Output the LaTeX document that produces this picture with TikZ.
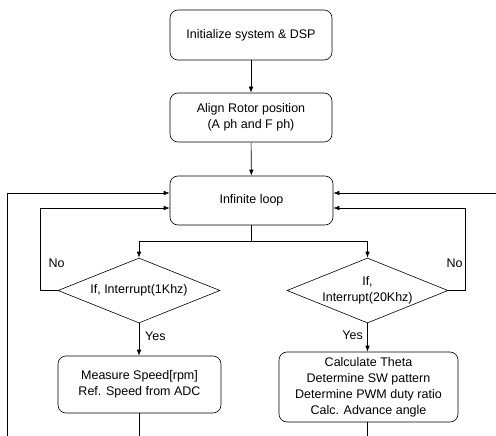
\documentclass[tikz,border=0pt]{standalone}
\usepackage{fontspec}
\setmainfont{Liberation Sans}
\usetikzlibrary{arrows.meta,shapes.geometric}
\begin{document}
\begin{tikzpicture}[x=1pt,y=-1pt,
  every node/.style={font=\fontsize{12.5}{16}\selectfont},
  box/.style={draw,rounded corners=8pt,align=center,inner sep=0pt,line width=0.6pt},
  dec/.style={draw,diamond,inner sep=0pt,line width=0.6pt},
  conn/.style={line width=0.6pt},
  arr/.style={conn,-{Latex[length=6pt,width=4.5pt]}},
  lbl/.style={inner sep=0pt,align=center}]
\useasboundingbox (0,0) rectangle (496,436);
\node[box,minimum width=162pt,minimum height=50pt] (init) at (251,35) {Initialize system \& DSP};
\node[box,minimum width=162pt,minimum height=49pt] (align) at (251,117.5) {Align Rotor position\\(A ph and F ph)};
\node[box,minimum width=163pt,minimum height=49pt] (loop) at (251.5,200.5) {Infinite loop};
\node[dec,minimum width=162pt,minimum height=65pt] (d1) at (139,290.5) {};
\node[lbl] (t1) at (d1) {If, Interrupt(1Khz)};
\node[dec,minimum width=161pt,minimum height=65pt] (d2) at (367.5,290.5) {};
\node[lbl] (t2) at (d2) {If,\\Interrupt(20Khz)};
\node[box,minimum width=163pt,minimum height=57pt] (m1) at (139.5,384.5) {Measure Speed[rpm]\\Ref. Speed from ADC};
\node[box,minimum width=179pt,minimum height=70pt] (m2) at (368.5,387) {Calculate Theta\\Determine SW pattern\\Determine PWM duty ratio\\Calc. Advance angle};
\coordinate (sp) at (251.5,241);
\coordinate (nl) at (40,208);
\coordinate (nr) at (465,208);
\coordinate (ol) at (7,437);
\coordinate (or) at (497,437);
\coordinate (b1) at (139,437);
\coordinate (b2) at (367.5,437);
\coordinate (ot) at (7,193);
\coordinate (ort) at (497,193);
\draw[arr] (init) -- (align);
\draw[arr] (align) -- (loop);
\draw[conn] (loop) -- (sp);
\draw[arr] (sp) -| (d1.north);
\draw[arr] (sp) -| (d2.north);
\draw[arr] (d1.west) -| (nl) -- (loop.west |- nl);
\draw[arr] (d2.east) -| (nr) -- (loop.east |- nr);
\draw[arr] (ol) -- (ot) -- (loop.west |- ot);
\draw[arr] (or) -- (ort) -- (loop.east |- ort);
\draw[arr] (d1.south) -- (d1.south |- m1.north);
\draw[arr] (d2.south) -- (d2.south |- m2.north);
\draw[conn] (d1.south |- m1.south) -- (b1);
\draw[conn] (d2.south |- m2.south) -- (b2);
\node[lbl,anchor=west] (y1) at (145,336) {Yes};
\node[lbl,anchor=east] (y2) at (363,335) {Yes};
\node[lbl] (n1) at (56.5,263) {No};
\node[lbl] (n2) at (454.5,263) {No};
\end{tikzpicture}
\end{document}
